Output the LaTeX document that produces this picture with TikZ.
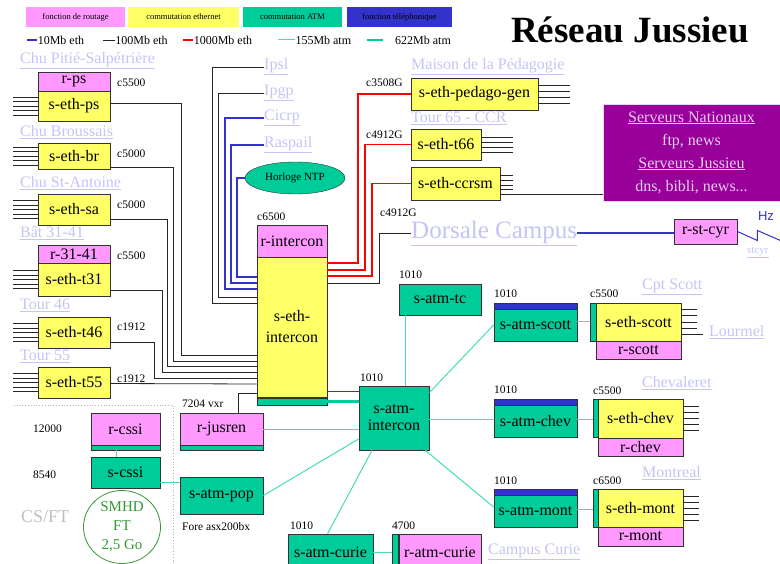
\documentclass[tikz,border=0pt]{standalone}
\usepackage{fontspec}
\setmainfont{Liberation Serif}
\setsansfont{Liberation Sans}
\usepackage{tikz}
\usetikzlibrary{calc,positioning,shapes.geometric}
\definecolor{jr-pink}{HTML}{FF99FF}
\definecolor{jr-yellow}{HTML}{FFFF66}
\definecolor{jr-green}{HTML}{00CC99}
\definecolor{jr-blue}{HTML}{3333CC}
\definecolor{jr-purple}{HTML}{990099}
\definecolor{jr-link}{HTML}{C4C4F6}
\definecolor{jr-teal}{HTML}{44DDB8}
\definecolor{jr-smhd}{HTML}{339933}
\definecolor{jr-lav}{HTML}{E8CCF2}
\newcommand{\bxfont}{\fontsize{16}{17}\selectfont}
\newcommand{\lkfont}{\fontsize{16}{17}\selectfont}
\newcommand{\nbfont}{\fontsize{11.5}{12}\selectfont}
\newcommand{\lgfont}{\fontsize{8.5}{9}\selectfont}

\begin{document}
\begin{tikzpicture}[x=1pt,y=-1pt,
  box/.style={draw=black!80, line width=0.8pt, inner sep=0pt, font=\bxfont, align=center},
  rbox/.style={box, fill=jr-pink},
  ebox/.style={box, fill=jr-yellow},
  abox/.style={box, fill=jr-green},
  tbox/.style={box, fill=jr-blue},
  sz/.style 2 args={minimum width=#1pt, minimum height=#2pt},
  lnk/.style={text=jr-link, font=\lkfont, inner sep=0pt, anchor=west},
  num/.style={font=\nbfont, inner sep=0pt, anchor=west},
  lgbox/.style={inner sep=0pt, font=\lgfont},
  lgtxt/.style={num, text=black, font=\fontsize{12}{12}\selectfont},
  eth10/.style={jr-blue, line width=1.6pt},
  eth100/.style={black!85, line width=0.8pt},
  eth1000/.style={red, line width=1.6pt},
  atm155/.style={jr-teal, line width=1pt},
  atm622/.style={jr-green, line width=2.6pt}]
\useasboundingbox (0,0) rectangle (780,564);

% legende
\node[lgbox, fill=jr-pink, sz={99}{20}] (lgrt) at (75.5,17) {fonction de routage};
\node[lgbox, fill=jr-yellow, sz={111}{20}] (lgeth) at (183.5,17) {commutation ethernet};
\node[lgbox, fill=jr-green, sz={99}{20}] (lgatm) at (292.5,17) {commutation ATM};
\node[lgbox, fill=jr-blue, sz={105}{20}] (lgtel) at (399.5,17) {fonction téléphonique};
\draw[eth10] (27,40) -- (37,40) node[lgtxt] (lg10) {10Mb eth};
\draw[eth100] (103,40) -- (115,40) node[lgtxt] (lg100) {100Mb eth};
\draw[eth1000] (183,40) -- (193,40) node[lgtxt] (lg1000) {1000Mb eth};
\draw[atm155] (278,40) -- (295,40) node[lgtxt] (lg155) {155Mb atm};
\draw[atm622] (367,40) -- (383,40);
\node[lgtxt] (lg622) at (395,40) {622Mb atm};

% titre
\node[font=\fontsize{37}{38}\selectfont\bfseries] (title) at (630,30) {Réseau Jussieu};

% sites de gauche
\node[lnk] (lkps) at (20,61) {\underline{Chu Pitié-Salpétrière}};
\node[rbox, sz={72}{19}] (rps) at (74,81.5) {r-ps};
\node[ebox, sz={72}{30}] (ethps) at (74,106) {s-eth-ps};
\node[num] (cps) at (117,83) {c5500};
\node[lnk] (lkbr) at (20,132) {\underline{Chu Broussais}};
\node[ebox, sz={72}{26}] (ethbr) at (74,156) {s-eth-br};
\node[num] (cbr) at (117,154) {c5000};
\node[lnk] (lksa) at (20,183) {\underline{Chu St-Antoine}};
\node[ebox, sz={72}{31}] (ethsa) at (74,209.5) {s-eth-sa};
\node[num] (csa) at (117,205) {c5000};
\node[lnk] (lk31) at (20,233) {\underline{Bât 31-41}};
\node[rbox, sz={72}{18}] (r3141) at (74,254) {r-31-41};
\node[ebox, sz={72}{33}] (etht31) at (74,279.5) {s-eth-t31};
\node[num] (ct31) at (117,256) {c5500};
\node[lnk] (lk46) at (20,305) {\underline{Tour 46}};
\node[ebox, sz={72}{31}] (etht46) at (74,332.5) {s-eth-t46};
\node[num] (ct46) at (117,327) {c1912};
\node[lnk] (lk55) at (20,356) {\underline{Tour 55}};
\node[ebox, sz={72}{31}] (etht55) at (74,382.5) {s-eth-t55};
\node[num] (ct55) at (117,379) {c1912};
\foreach \n in {ethps,ethbr,ethsa,etht31,etht46,etht55}
  \foreach \d in {-9,-4.5,0,4.5,9}
    \draw[eth100] ([yshift=\d pt]\n.west) -- ++(-25,0);

% coeur ethernet
\node[rbox, sz={70}{32}] (rinter) at (292,241) {r-intercon};
\node[ebox, sz={70}{140}, font=\fontsize{16}{21}\selectfont] (ethic) at (292,327) {s-eth-\\intercon};
\node[abox, sz={70}{7}] (icstrip) at (292,401.5) {};
\node[num] (cic) at (257,217) {c6500};

\draw[eth100] ([yshift=3pt]ethps.east) -| (181,355) -- (ethic.west |- 0,355);
\draw[eth100] ([yshift=-11pt]ethbr.east) -| (173,361) -- (ethic.west |- 0,361);
\draw[eth100] ([yshift=-9.5pt]ethsa.east) -| (167,366) -- (ethic.west |- 0,366);
\draw[eth100] ([yshift=-10.5pt]etht31.east) -| (162,372) -- (ethic.west |- 0,372);
\draw[eth100] ([yshift=-9.5pt]etht46.east) -| (154,378) -- (ethic.west |- 0,378);
\draw[eth100] ([yshift=-1pt]etht55.east) -- (ethic.west |- 0,384);

% liens du haut
\node[lnk] (ipsl) at (264,67) {\underline{Ipsl}};
\node[lnk] (ipgp) at (264,93) {\underline{Ipgp}};
\node[lnk] (cicrp) at (264,118) {\underline{Cicrp}};
\node[lnk] (raspail) at (264,145) {\underline{Raspail}};
\node[ellipse, draw=black!80, fill=jr-green, minimum width=100pt, minimum height=32pt, inner sep=0pt, font=\fontsize{11}{12}\selectfont] (ntp) at (295,178) {Horloge NTP};
\draw[eth100] (ipsl.west) -| (212,303) -- (ethic.west |- 0,303);
\draw[eth100] (ipgp.west) -| (218,297) -- (ethic.west |- 0,297);
\draw[eth10] (cicrp.west) -| (225,289) -- (ethic.west |- 0,289);
\draw[eth10] (raspail.west) -| (231,283) -- (ethic.west |- 0,283);
\draw[eth10] (ntp.west) -| (237,277) -- (ethic.west |- 0,277);

% gigabit
\node[lnk] (lkpedago) at (411,67) {\underline{Maison de la Pédagogie}};
\node[ebox, sz={127}{32}] (pedago) at (474.5,94) {s-eth-pedago-gen};
\node[num] (cpedago) at (366,83) {c3508G};
\node[lnk] (lkt66) at (411,118) {\underline{Tour 65 - CCR}};
\node[ebox, sz={70}{31}] (t66) at (446,144.5) {s-eth-t66};
\node[num] (ct66) at (366,135) {c4912G};
\node[ebox, sz={89}{33}] (ccrsm) at (455.5,183.5) {s-eth-ccrsm};
\node[num] (cdors) at (380,213) {c4912G};
\foreach \d in {9,3,-3,-9} \draw[eth100] ([yshift=\d pt]pedago.east) -- ++(32,0);
\foreach \d in {7.5,2.5,-2.5,-7.5} \draw[eth100] ([yshift=\d pt]t66.east) -- ++(32,0);
\foreach \d in {8.5,3.5,-1.5,-5.5} \draw[eth100] ([yshift=\d pt]ccrsm.east) -- ++(13,0);
\draw[eth1000] (ethic.east |- 0,263) -- (358,263) |- (pedago.west);
\draw[eth1000] (ethic.east |- 0,270) -- (365,270) |- (t66.west);
\draw[eth1000] (ethic.east |- 0,276) -- (372,276) |- (ccrsm.west);

\node[lnk, font=\fontsize{25}{26}\selectfont] (dorsale) at (411,233) {\underline{Dorsale Campus}};
\draw[eth100] (ethic.east |- 0,283) -- (379,283) |- (dorsale.west);

\node[fill=jr-purple, draw=jr-lav!80, line width=0.6pt, text=jr-lav, sz={177}{97}, inner sep=0pt, align=center, font=\fontsize{16}{23}\selectfont] (servers) at (691.5,152.5)
  {\underline{Serveurs Nationaux}\\ftp, news\\\underline{Serveurs Jussieu}\\dns, bibli, news...};
\draw[eth100] ([yshift=-10.5pt]ccrsm.east) -- ([yshift=-10.5pt]ccrsm.east -| servers.west);

\node[rbox, sz={63}{25}] (rstcyr) at (705.5,231.5) {r-st-cyr};
\draw[eth10] (dorsale.east) -- (rstcyr.west |- dorsale.east);
\draw[jr-blue, line width=1pt] (rstcyr.east) -- ++(20,9) -- ++(0,-10) -- ++(23,10);
\node[text=jr-blue, inner sep=0pt, font=\sffamily\fontsize{13}{14}\selectfont] (hz) at (766,216) {Hz};
\node[lnk, font=\fontsize{11}{12}\selectfont] (lkstcyr) at (747,253) {\underline{stcyr}};

% ATM
\node[abox, sz={82}{31}] (atmtc) at (440,299.5) {s-atm-tc};
\node[num] (ntc) at (399,275) {1010};
\node[abox, sz={70}{64}] (atmic) at (394,418) {s-atm-\\intercon};
\node[num] (nic) at (360,378) {1010};
\draw[eth10, line width=1pt] (ethic.east |- 0,392) -- (atmic.west |- 0,392);
\draw[atm622] (icstrip.east) -- (atmic.west |- icstrip.east);
\draw[atm155] (atmtc.south -| 405,0) -- (atmic.north -| 405,0);

% Scott
\node[tbox, sz={83}{6}] (scotttop) at (535.5,306) {};
\node[abox, sz={83}{32}] (atmscott) at (535.5,325) {s-atm-scott};
\node[num] (nscott) at (494,294) {1010};
\node[abox, sz={6}{38}] (scottstrip) at (593,322) {};
\node[ebox, sz={85}{38}] (ethscott) at (638.5,322) {s-eth-scott};
\node[rbox, sz={85}{18}] (rscott) at (638.5,350) {r-scott};
\node[num] (cscott) at (590,294) {c5500};
\node[lnk] (lkscott) at (642,287) {\underline{Cpt Scott}};
\node[lnk] (lklourmel) at (709,332) {\underline{Lourmel}};
\foreach \d in {13,7,0,-6} \draw[eth100] ([yshift=\d pt]ethscott.east) -- ++(16,0);
\draw[eth100] ([yshift=-12pt]ethscott.east) -- ++(22,0);
\draw[atm155] ([yshift=-7pt]atmic.north east) -- (atmscott.west);
\draw[atm155] ([yshift=3pt]atmscott.east) -- (scottstrip.west |- 0,322);

% Chevaleret
\node[tbox, sz={83}{6}] (chevtop) at (535.5,402) {};
\node[abox, sz={83}{32}] (atmchev) at (535.5,421) {s-atm-chev};
\node[num] (nchev) at (494,390) {1010};
\node[abox, sz={5}{38}] (chevstrip) at (595.5,418) {};
\node[ebox, sz={85}{39}] (ethchev) at (640.5,418.5) {s-eth-chev};
\node[rbox, sz={85}{18}] (rchev) at (640.5,447) {r-chev};
\node[num] (cchev) at (593,391) {c5500};
\node[lnk] (lkchev) at (642,383) {\underline{Chevaleret}};
\foreach \d in {12,6,0,-6,-12} \draw[eth100] ([yshift=\d pt]ethchev.east) -- ++(16,0);
\draw[atm155] (atmic.east |- 0,419) -- (atmchev.west |- 0,419);
\draw[atm155] (atmchev.east |- 0,419) -- (chevstrip.west |- 0,419);

% Montreal
\node[tbox, sz={83}{6}] (monttop) at (535.5,492) {};
\node[abox, sz={83}{32}] (atmmont) at (535.5,511) {s-atm-mont};
\node[num] (nmont) at (494,481) {1010};
\node[abox, sz={5}{38}] (montstrip) at (595.5,508) {};
\node[ebox, sz={85}{38}] (ethmont) at (640.5,508) {s-eth-mont};
\node[rbox, sz={85}{19}] (rmont) at (640.5,536.5) {r-mont};
\node[num] (cmont) at (593,481) {c6500};
\node[lnk] (lkmont) at (642,473) {\underline{Montreal}};
\foreach \d in {12,6,0,-6,-12} \draw[eth100] ([yshift=\d pt]ethmont.east) -- ++(16,0);
\draw[atm155] ([xshift=-4pt]atmic.south east) -- ([yshift=4pt]atmmont.west);
\draw[atm155] ([yshift=2pt]atmmont.east) -- (montstrip.west |- 0,509);

% Curie
\node[abox, sz={85}{36}] (atmcurie) at (330.5,552) {s-atm-curie};
\node[num] (ncurie) at (290,526) {1010};
\node[abox, sz={6}{36}] (curiestrip) at (395,552) {};
\node[rbox, sz={82}{36}] (rcurie) at (440,552) {r-atm-curie};
\node[num] (ccurie) at (392,526) {4700};
\node[lnk] (lkcurie) at (488,552) {\underline{Campus Curie}};
\draw[atm155] ([xshift=-22pt]atmic.south) -- ([xshift=40pt]atmcurie.north west);
\draw[atm155] (atmcurie.east) -- (curiestrip.west);

% CS/FT et jusren
\draw[gray!60, dotted, line width=0.8pt] (14,405) -- (173,405) -- (173,564);
\node[rbox, sz={69}{32}] (rcssi) at (125.5,429) {r-cssi};
\node[abox, sz={69}{5}] (rcssistrip) at (125.5,447.5) {};
\node[num] (ncssi) at (33,429) {12000};
\node[abox, sz={69}{31}] (scssi) at (125.5,472.5) {s-cssi};
\node[num] (nscssi) at (33,475) {8540};
\draw[atm155] ([xshift=-9pt]rcssistrip.south) -- ([xshift=-9pt]scssi.north);
\node[ellipse, draw=jr-smhd, line width=0.8pt, text=jr-smhd, minimum width=77pt, minimum height=73pt, inner sep=0pt, align=center, font=\fontsize{15}{19}\selectfont] (smhd) at (122,527) {SMHD\\FT\\2,5 Go};
\node[text=black!25, inner sep=0pt, anchor=west, font=\fontsize{18}{18}\selectfont] (csft) at (21,517) {CS/FT};

\node[rbox, sz={83}{32}] (rjusren) at (221.5,429) {r-jusren};
\node[abox, sz={83}{5}] (jusrenstrip) at (221.5,447.5) {};
\node[num] (njusren) at (182,404) {7204 vxr};
\draw[eth100] (rjusren.north -| 238,0) |- (ethic.west |- 0,393);
\draw[atm155] (rjusren.east) -- (atmic.west |- rjusren.east);

\node[abox, sz={83}{37}] (atmpop) at (221.5,495.5) {s-atm-pop};
\node[num] (npop) at (182,527) {Fore asx200bx};
\draw[atm155] ([yshift=-10pt]scssi.east) -- (atmpop.west |- 0,482.5);
\draw[atm155] (atmpop.east) -- ([yshift=-21pt]atmic.west);
\end{tikzpicture}
\end{document}
